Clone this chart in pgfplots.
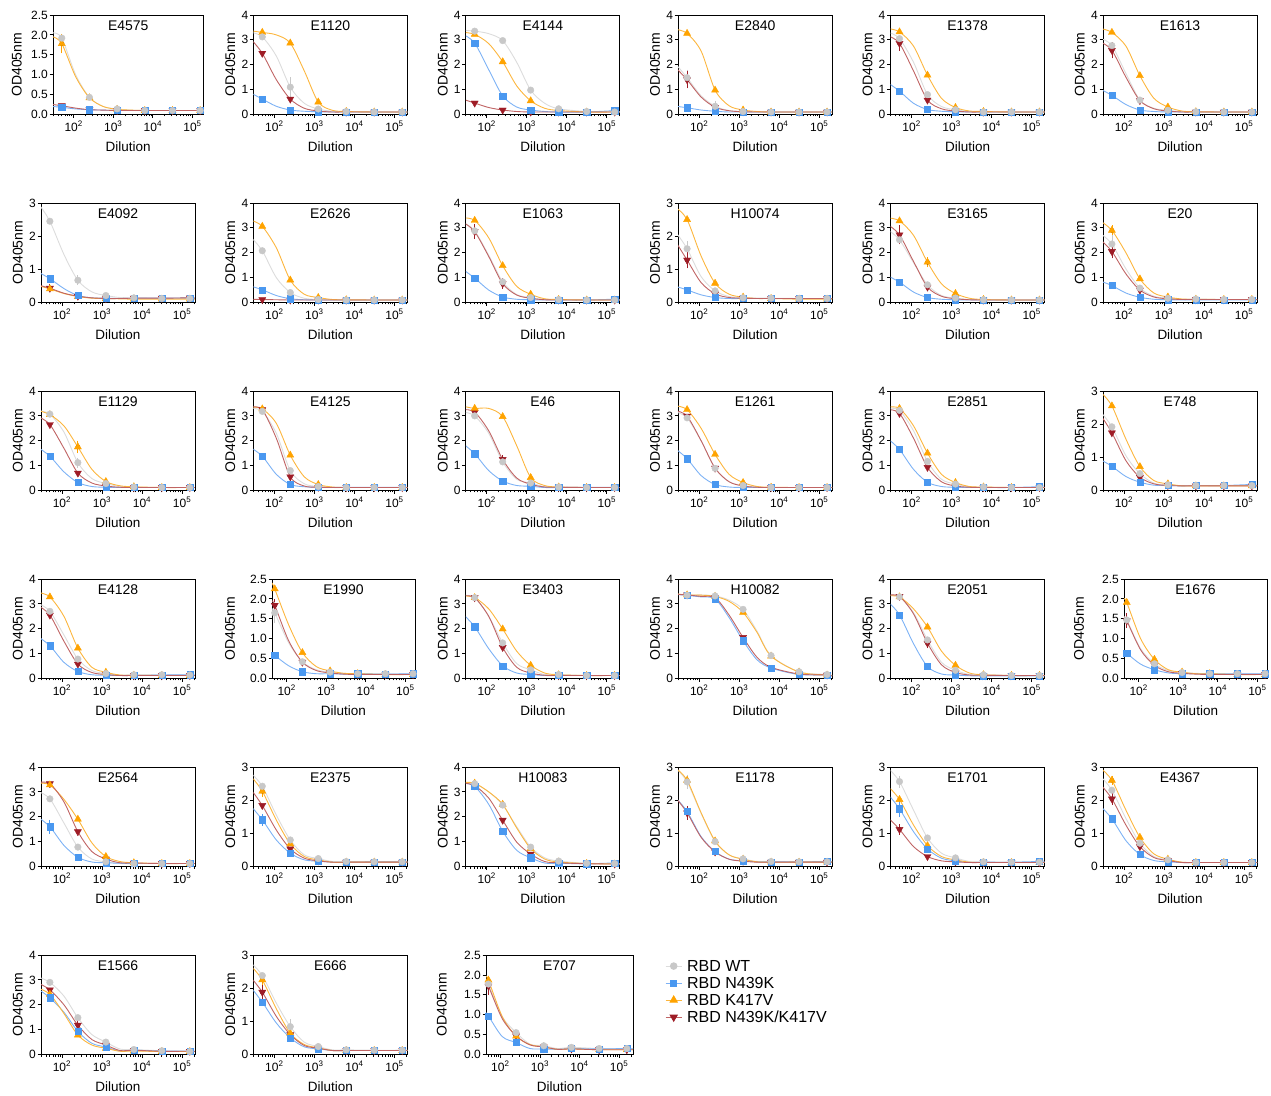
\documentclass[border=0pt]{standalone}
\usepackage{fontspec}
\setmainfont{Liberation Sans}
\usepackage{pgfplots}
\usepackage{pgfplotstable}
\pgfplotsset{compat=1.18}

\definecolor{wtm}{RGB}{200,200,200}
\definecolor{wtl}{RGB}{220,220,220}
\definecolor{nm}{RGB}{74,152,240}
\definecolor{nl}{RGB}{125,178,245}
\definecolor{km}{RGB}{255,163,0}
\definecolor{kl}{RGB}{252,182,62}
\definecolor{dm}{RGB}{158,28,38}
\definecolor{dl}{RGB}{192,100,100}

\pgfplotsset{
  pnlsty/.style={
    scale only axis, height=99.5pt, anchor=south west, ymin=0,
    xtick={100,1000,10000,100000},
    xticklabels={10\textsuperscript{2},10\textsuperscript{3},10\textsuperscript{4},10\textsuperscript{5}},
    minor xtick={20,30,40,50,60,70,80,90,200,300,400,500,600,700,800,900,2000,3000,4000,5000,6000,7000,8000,9000,20000,30000,40000,50000,60000,70000,80000,90000,200000,300000},
    tick align=outside, tick pos=left,
    major tick length=3.5pt, minor tick length=2pt,
    every tick/.style={black, line width=0.8pt},
    axis line style={black, line width=0.9pt},
    tick label style={font=\fontsize{12}{12}\selectfont},
    yticklabel style={inner sep=0pt, xshift=-1.5pt},
    xticklabel style={inner sep=0pt, yshift=-3pt},
    xlabel={Dilution}, ylabel={OD405nm},
    every axis x label/.style={at={(axis description cs:0.5,0)}, anchor=center, yshift=-32pt, font=\fontsize{13.5}{14}\selectfont},
    every axis y label/.style={rotate=90, anchor=center, font=\fontsize{14}{14}\selectfont},
    every axis title/.style={at={(axis description cs:0.5,1)}, anchor=center, yshift=-11pt, font=\fontsize{14}{14}\selectfont},
  },
  yfour/.style={ymax=4, ytick={0,1,2,3,4}, yticklabels={0,1,2,3,4}},
  ythree/.style={ymax=3, ytick={0,1,2,3}, yticklabels={0,1,2,3}},
  ytwofive/.style={ymax=2.5, ytick={0,0.5,1,1.5,2,2.5}, yticklabels={0.0,0.5,1.0,1.5,2.0,2.5}},
  mrows/.style={skip coords between index={0}{1}, skip coords between index={2}{3},
    skip coords between index={4}{5}, skip coords between index={6}{7},
    skip coords between index={10}{11}},
  cv/.style={forget plot, smooth, line width=0.9pt, #1},
  mwt/.style={mark=*, mark size=3.3pt, mark options={fill=wtm, draw=wtm}},
  mn/.style={mark=square*, mark size=3.1pt, mark options={fill=nm, draw=nm}},
  mk/.style={mark=triangle*, mark size=4.1pt, mark options={fill=km, draw=km}},
  md/.style={mark=triangle*, mark size=4.1pt, mark options={fill=dm, draw=dm, rotate=180}},
  myleg/.style={legend image code/.code={\draw[mark repeat=2,mark phase=2,##1] plot coordinates {(0pt,0pt) (8pt,0pt) (16pt,0pt)};}},
}

\let\pextra\relax
% error bar: colour, dilution, mean, half-range
\newcommand\eb[4]{\addplot[forget plot, only marks, mark=none,
  error bars/.cd, y dir=both, y explicit,
  error bar style={#1, line width=0.8pt},
  error mark options={#1, line width=0.8pt, mark size=2.6pt}]
  coordinates {(#2,#3) +- (0,#4)};}

\newcommand\series[1]{%
  \addplot[cv=wtl] table[x=x,y=w]{#1};
  \addplot[cv=nl] table[x=x,y=n]{#1};
  \addplot[cv=kl] table[x=x,y=k]{#1};
  \addplot[cv=dl] table[x=x,y=d]{#1};
  \pextra
  \addplot[forget plot, only marks, mrows, md] table[x=x,y=d]{#1};
  \addplot[forget plot, only marks, mrows, mk] table[x=x,y=k]{#1};
  \addplot[forget plot, only marks, mrows, mn] table[x=x,y=n]{#1};
  \addplot[forget plot, only marks, mrows, mwt] table[x=x,y=w]{#1};
}

% #1 left, #2 bottom, #3 width, #4 xmin, #5 xmax, #6 y style, #7 title, #8 table, #9 ylabel pos
\newcommand\panel[9]{%
\begin{semilogxaxis}[pnlsty,#6,at={(#1pt,#2pt)},width=#3pt,xmin=#4,xmax=#5,title={#7},
  ylabel style={at={(axis description cs:#9,0.5)}}]
\series{#8}
\end{semilogxaxis}\let\pextra\relax}

% rows: x, RBD WT (w), RBD N439K (n), RBD K417V (k), RBD N439K/K417V (d)
\pgfplotstableread{
x w n k d
30 2.05 0.20 1.95 0.25
50 1.92 0.18 1.78 0.22
112 1.00 0.14 0.95 0.16
250 0.43 0.12 0.42 0.12
560 0.20 0.11 0.20 0.11
1250 0.14 0.10 0.13 0.10
2800 0.11 0.10 0.11 0.10
6250 0.10 0.10 0.10 0.10
31250 0.10 0.10 0.10 0.10
156250 0.10 0.10 0.10 0.10
190000 0.10 0.10 0.10 0.10
}\tbA
\pgfplotstableread{
x w n k d
27 3.30 0.85 3.36 3.00
50 3.12 0.62 3.30 2.46
112 2.35 0.33 3.20 1.40
250 1.10 0.18 2.87 0.62
560 0.45 0.13 1.75 0.25
1250 0.22 0.11 0.50 0.14
2800 0.13 0.10 0.17 0.10
6250 0.12 0.10 0.12 0.10
31250 0.10 0.10 0.10 0.10
156250 0.10 0.10 0.10 0.10
210000 0.10 0.10 0.10 0.10
}\tbB
\pgfplotstableread{
x w n k d
27 3.38 3.20 3.30 0.60
50 3.35 2.87 3.22 0.46
112 3.25 1.80 2.85 0.28
250 2.97 0.75 2.12 0.18
560 2.10 0.30 1.15 0.12
1250 0.98 0.18 0.55 0.10
2800 0.45 0.12 0.25 0.10
6250 0.23 0.10 0.16 0.10
31250 0.12 0.10 0.10 0.10
156250 0.10 0.15 0.10 0.10
210000 0.10 0.10 0.10 0.10
}\tbC
\pgfplotstableread{
x w n k d
27 2.00 0.33 3.42 1.85
50 1.48 0.27 3.26 1.40
112 0.75 0.18 2.55 0.70
250 0.33 0.13 0.98 0.29
560 0.16 0.10 0.35 0.15
1250 0.12 0.10 0.18 0.11
2800 0.10 0.10 0.12 0.10
6250 0.10 0.10 0.10 0.10
31250 0.10 0.10 0.10 0.10
156250 0.10 0.10 0.10 0.10
210000 0.10 0.10 0.10 0.10
}\tbD
\pgfplotstableread{
x w n k d
27 3.30 1.25 3.45 3.15
50 3.05 0.94 3.32 2.86
112 2.10 0.45 2.75 1.75
250 0.80 0.20 1.58 0.58
560 0.32 0.13 0.65 0.23
1250 0.19 0.11 0.28 0.14
2800 0.12 0.10 0.14 0.10
6250 0.10 0.10 0.12 0.10
31250 0.10 0.10 0.10 0.10
156250 0.10 0.10 0.10 0.10
210000 0.10 0.10 0.10 0.10
}\tbE
\pgfplotstableread{
x w n k d
27 3.05 1.00 3.45 2.90
50 2.77 0.77 3.30 2.58
112 1.65 0.40 2.75 1.50
250 0.58 0.18 1.56 0.56
560 0.25 0.12 0.65 0.23
1250 0.17 0.10 0.30 0.14
2800 0.11 0.10 0.14 0.10
6250 0.11 0.10 0.11 0.10
31250 0.10 0.10 0.10 0.10
156250 0.10 0.10 0.10 0.10
210000 0.10 0.10 0.10 0.10
}\tbF
\pgfplotstableread{
x w n k d
27 2.95 0.90 0.50 0.52
50 2.45 0.72 0.41 0.43
112 1.45 0.42 0.27 0.28
250 0.67 0.21 0.18 0.19
560 0.32 0.14 0.13 0.14
1250 0.21 0.13 0.12 0.12
2800 0.15 0.12 0.11 0.12
6250 0.14 0.13 0.10 0.13
31250 0.12 0.13 0.10 0.13
156250 0.12 0.14 0.10 0.14
210000 0.12 0.13 0.10 0.13
}\tbG
\pgfplotstableread{
x w n k d
27 2.60 0.65 3.30 0.13
50 2.08 0.51 3.06 0.12
112 1.00 0.28 2.20 0.11
250 0.40 0.15 0.90 0.10
560 0.17 0.11 0.33 0.10
1250 0.12 0.10 0.20 0.10
2800 0.10 0.10 0.12 0.10
6250 0.10 0.10 0.11 0.10
31250 0.10 0.10 0.10 0.10
156250 0.10 0.10 0.10 0.10
210000 0.10 0.10 0.10 0.10
}\tbH
\pgfplotstableread{
x w n k d
27 3.20 1.30 3.40 3.20
50 2.88 0.98 3.30 2.85
112 1.90 0.50 2.60 1.85
250 0.83 0.22 1.48 0.76
560 0.32 0.13 0.65 0.30
1250 0.20 0.11 0.33 0.17
2800 0.12 0.10 0.15 0.11
6250 0.12 0.10 0.12 0.10
31250 0.10 0.10 0.10 0.10
156250 0.10 0.13 0.10 0.10
210000 0.10 0.10 0.10 0.10
}\tbI
\pgfplotstableread{
x w n k d
27 2.10 0.48 2.85 1.80
50 1.62 0.38 2.50 1.28
112 0.78 0.23 1.40 0.60
250 0.35 0.15 0.58 0.26
560 0.18 0.12 0.25 0.15
1250 0.14 0.12 0.16 0.13
2800 0.13 0.12 0.12 0.12
6250 0.13 0.12 0.12 0.12
31250 0.12 0.12 0.10 0.12
156250 0.12 0.12 0.10 0.12
210000 0.12 0.12 0.10 0.12
}\tbJ
\pgfplotstableread{
x w n k d
27 2.90 1.05 3.40 3.10
50 2.52 0.82 3.28 2.72
112 1.60 0.42 2.70 1.65
250 0.71 0.20 1.62 0.62
560 0.28 0.13 0.75 0.25
1250 0.18 0.11 0.36 0.15
2800 0.12 0.10 0.17 0.11
6250 0.11 0.10 0.12 0.10
31250 0.10 0.10 0.10 0.10
156250 0.10 0.10 0.10 0.10
210000 0.10 0.10 0.10 0.10
}\tbK
\pgfplotstableread{
x w n k d
27 2.75 0.85 3.25 2.50
50 2.35 0.68 2.90 2.05
112 1.35 0.38 2.00 1.15
250 0.58 0.21 0.95 0.50
560 0.25 0.13 0.38 0.22
1250 0.17 0.11 0.22 0.15
2800 0.13 0.10 0.14 0.12
6250 0.14 0.10 0.13 0.12
31250 0.12 0.10 0.12 0.12
156250 0.12 0.10 0.12 0.12
210000 0.12 0.10 0.12 0.12
}\tbL
\pgfplotstableread{
x w n k d
27 3.20 1.70 3.20 2.95
50 3.07 1.38 3.05 2.65
112 2.35 0.75 2.60 1.70
250 1.12 0.32 1.75 0.70
560 0.48 0.16 0.85 0.30
1250 0.28 0.13 0.36 0.18
2800 0.16 0.12 0.19 0.13
6250 0.14 0.12 0.15 0.12
31250 0.12 0.12 0.12 0.12
156250 0.12 0.12 0.12 0.12
210000 0.12 0.12 0.12 0.12
}\tbM
\pgfplotstableread{
x w n k d
27 3.30 1.70 3.35 3.35
50 3.18 1.38 3.28 3.25
112 2.30 0.65 2.70 2.10
250 0.80 0.24 1.42 0.55
560 0.27 0.15 0.55 0.18
1250 0.16 0.13 0.24 0.13
2800 0.12 0.13 0.14 0.12
6250 0.12 0.13 0.12 0.12
31250 0.12 0.13 0.12 0.12
156250 0.12 0.13 0.12 0.12
210000 0.12 0.13 0.12 0.12
}\tbN
\pgfplotstableread{
x w n k d
27 3.15 1.85 3.38 3.25
50 3.00 1.48 3.30 3.15
112 2.30 0.80 3.30 2.40
250 1.15 0.38 2.97 1.25
560 0.45 0.20 1.80 0.50
1250 0.30 0.17 0.52 0.25
2800 0.15 0.12 0.20 0.14
6250 0.14 0.12 0.14 0.13
31250 0.12 0.13 0.12 0.12
156250 0.12 0.13 0.12 0.12
210000 0.12 0.12 0.12 0.12
}\tbO
\pgfplotstableread{
x w n k d
27 3.15 1.65 3.40 3.20
50 2.92 1.28 3.25 2.99
112 2.00 0.60 2.50 2.00
250 0.89 0.24 1.45 0.90
560 0.35 0.14 0.65 0.35
1250 0.20 0.12 0.32 0.18
2800 0.13 0.12 0.16 0.13
6250 0.12 0.12 0.13 0.12
31250 0.12 0.12 0.12 0.12
156250 0.12 0.12 0.12 0.12
210000 0.12 0.12 0.12 0.12
}\tbP
\pgfplotstableread{
x w n k d
27 3.30 2.05 3.35 3.25
50 3.22 1.65 3.30 3.10
112 2.40 0.85 2.60 2.10
250 1.17 0.33 1.50 0.93
560 0.45 0.16 0.65 0.35
1250 0.26 0.13 0.32 0.18
2800 0.14 0.12 0.16 0.13
6250 0.14 0.12 0.14 0.12
31250 0.12 0.12 0.12 0.12
156250 0.12 0.15 0.12 0.12
210000 0.12 0.12 0.12 0.12
}\tbQ
\pgfplotstableread{
x w n k d
27 2.35 0.92 2.95 2.25
50 1.92 0.73 2.55 1.74
112 1.05 0.42 1.55 0.90
250 0.51 0.25 0.72 0.40
560 0.22 0.16 0.30 0.20
1250 0.17 0.15 0.20 0.15
2800 0.14 0.14 0.14 0.14
6250 0.15 0.15 0.14 0.14
31250 0.15 0.15 0.14 0.14
156250 0.15 0.18 0.14 0.14
210000 0.14 0.15 0.14 0.14
}\tbR
\pgfplotstableread{
x w n k d
27 3.00 1.65 3.45 2.90
50 2.70 1.32 3.28 2.55
112 1.75 0.65 2.50 1.50
250 0.78 0.28 1.22 0.58
560 0.32 0.15 0.45 0.24
1250 0.20 0.13 0.25 0.16
2800 0.14 0.12 0.14 0.12
6250 0.15 0.12 0.13 0.12
31250 0.15 0.14 0.12 0.12
156250 0.14 0.15 0.12 0.12
210000 0.14 0.13 0.12 0.12
}\tbS
\pgfplotstableread{
x w n k d
42.6 1.75 0.63 2.40 1.95
50 1.65 0.58 2.25 1.84
112 0.90 0.32 1.35 0.95
250 0.42 0.17 0.65 0.41
560 0.22 0.12 0.30 0.20
1250 0.16 0.12 0.19 0.14
2800 0.13 0.11 0.13 0.11
6250 0.12 0.12 0.12 0.10
31250 0.12 0.11 0.10 0.10
156250 0.12 0.12 0.10 0.10
175000 0.12 0.11 0.10 0.10
}\tbT
\pgfplotstableread{
x w n k d
27 3.35 2.55 3.32 3.32
50 3.25 2.08 3.25 3.25
112 2.50 1.20 2.80 2.50
250 1.43 0.51 1.99 1.25
560 0.60 0.22 1.10 0.45
1250 0.35 0.16 0.53 0.22
2800 0.16 0.12 0.22 0.13
6250 0.16 0.12 0.15 0.12
31250 0.12 0.12 0.12 0.12
156250 0.12 0.12 0.12 0.12
210000 0.12 0.12 0.12 0.12
}\tbU
\pgfplotstableread{
x w n k d
27 3.40 3.38 3.40 3.38
50 3.35 3.34 3.36 3.36
112 3.36 3.28 3.35 3.30
250 3.32 3.20 3.30 3.25
560 3.15 2.45 3.10 2.55
1250 2.78 1.52 2.66 1.65
2800 1.90 0.75 1.85 0.85
6250 0.92 0.42 0.90 0.45
31250 0.27 0.16 0.26 0.18
156250 0.16 0.14 0.14 0.14
210000 0.12 0.10 0.11 0.10
}\tbV
\pgfplotstableread{
x w n k d
27 3.35 3.05 3.32 3.35
50 3.28 2.56 3.28 3.30
112 2.65 1.40 2.80 2.60
250 1.55 0.48 2.07 1.42
560 0.65 0.18 1.10 0.55
1250 0.33 0.14 0.53 0.24
2800 0.16 0.11 0.22 0.14
6250 0.15 0.10 0.15 0.13
31250 0.12 0.10 0.12 0.12
156250 0.12 0.10 0.12 0.12
210000 0.12 0.10 0.12 0.12
}\tbW
\pgfplotstableread{
x w n k d
42.6 1.55 0.66 2.00 1.55
50 1.47 0.63 1.91 1.45
112 0.75 0.36 1.00 0.72
250 0.37 0.22 0.48 0.33
560 0.20 0.14 0.22 0.17
1250 0.15 0.12 0.16 0.13
2800 0.13 0.12 0.12 0.11
6250 0.12 0.12 0.12 0.10
31250 0.12 0.12 0.10 0.10
156250 0.12 0.12 0.10 0.10
175000 0.12 0.12 0.10 0.10
}\tbX
\pgfplotstableread{
x w n k d
27 3.00 1.95 3.35 3.38
50 2.72 1.60 3.28 3.33
112 1.75 0.85 2.70 2.60
250 0.78 0.37 1.90 1.40
560 0.30 0.18 0.95 0.60
1250 0.19 0.15 0.40 0.30
2800 0.12 0.13 0.20 0.15
6250 0.12 0.12 0.15 0.14
31250 0.12 0.12 0.12 0.12
156250 0.12 0.12 0.12 0.12
210000 0.12 0.12 0.12 0.12
}\tbY
\pgfplotstableread{
x w n k d
27 2.80 1.80 2.70 2.30
50 2.42 1.41 2.27 1.84
112 1.55 0.80 1.40 1.10
250 0.80 0.40 0.68 0.53
560 0.35 0.20 0.30 0.25
1250 0.24 0.16 0.20 0.17
2800 0.15 0.13 0.13 0.13
6250 0.15 0.13 0.13 0.13
31250 0.14 0.14 0.13 0.13
156250 0.14 0.14 0.13 0.13
210000 0.14 0.13 0.13 0.13
}\tbZ
\pgfplotstableread{
x w n k d
27 3.38 3.35 3.38 3.35
50 3.33 3.22 3.35 3.25
112 3.00 2.50 3.00 2.75
250 2.47 1.42 2.50 1.86
560 1.60 0.65 1.55 0.98
1250 0.78 0.35 0.72 0.50
2800 0.35 0.14 0.30 0.20
6250 0.22 0.13 0.18 0.15
31250 0.13 0.11 0.12 0.11
156250 0.12 0.14 0.10 0.10
210000 0.10 0.10 0.10 0.10
}\tbAA
\pgfplotstableread{
x w n k d
27 2.95 2.05 2.95 2.05
50 2.55 1.66 2.60 1.62
112 1.60 0.90 1.62 0.88
250 0.75 0.45 0.77 0.44
560 0.35 0.22 0.35 0.22
1250 0.23 0.17 0.22 0.16
2800 0.15 0.14 0.14 0.13
6250 0.15 0.14 0.13 0.13
31250 0.14 0.14 0.13 0.13
156250 0.14 0.15 0.13 0.13
210000 0.14 0.14 0.13 0.13
}\tbAB
\pgfplotstableread{
x w n k d
27 2.95 2.15 2.40 1.45
50 2.56 1.74 2.02 1.12
112 1.70 1.05 1.25 0.60
250 0.86 0.53 0.63 0.30
560 0.40 0.25 0.30 0.17
1250 0.26 0.17 0.20 0.14
2800 0.15 0.12 0.13 0.12
6250 0.14 0.13 0.12 0.12
31250 0.13 0.13 0.12 0.12
156250 0.13 0.15 0.12 0.12
210000 0.13 0.13 0.12 0.12
}\tbAC
\pgfplotstableread{
x w n k d
27 2.70 1.80 2.95 2.45
50 2.30 1.44 2.60 2.04
112 1.45 0.78 1.70 1.25
250 0.70 0.36 0.88 0.60
560 0.30 0.18 0.38 0.27
1250 0.20 0.14 0.22 0.18
2800 0.13 0.12 0.13 0.12
6250 0.12 0.12 0.12 0.12
31250 0.12 0.12 0.12 0.12
156250 0.12 0.12 0.12 0.12
210000 0.12 0.12 0.12 0.12
}\tbAD
\pgfplotstableread{
x w n k d
27 3.10 2.60 2.65 2.85
50 2.90 2.28 2.42 2.60
112 2.35 1.70 1.65 2.00
250 1.48 0.93 0.78 1.18
560 0.80 0.45 0.38 0.60
1250 0.50 0.30 0.25 0.38
2800 0.22 0.14 0.13 0.16
6250 0.20 0.17 0.14 0.17
31250 0.15 0.14 0.12 0.13
156250 0.12 0.14 0.12 0.13
210000 0.12 0.12 0.12 0.12
}\tbAE
\pgfplotstableread{
x w n k d
27 2.75 2.00 2.65 2.30
50 2.38 1.58 2.25 1.88
112 1.55 0.95 1.38 1.15
250 0.84 0.50 0.64 0.60
560 0.37 0.23 0.30 0.27
1250 0.24 0.17 0.20 0.19
2800 0.14 0.12 0.12 0.12
6250 0.14 0.12 0.12 0.12
31250 0.13 0.12 0.12 0.12
156250 0.13 0.12 0.12 0.12
210000 0.13 0.12 0.12 0.12
}\tbAF
\pgfplotstableread{
x w n k d
43.5 1.85 1.05 1.95 1.80
50 1.77 0.97 1.87 1.72
112 0.95 0.45 0.95 0.90
250 0.55 0.30 0.46 0.47
560 0.26 0.15 0.25 0.24
1250 0.22 0.14 0.19 0.19
2800 0.15 0.13 0.13 0.13
6250 0.18 0.15 0.14 0.14
31250 0.15 0.14 0.12 0.12
156250 0.15 0.15 0.12 0.12
224000 0.14 0.14 0.12 0.12
}\tbAG

\begin{document}
\begin{tikzpicture}
\useasboundingbox (0,0) rectangle (1271pt,1095pt);
% row 1
\def\pextra{\eb{km}{50}{1.78}{0.18}}
\panel{53}{980.5}{150.5}{30}{190000}{ytwofive}{E4575}{\tbA}{-0.24}
\def\pextra{\eb{wtm}{250}{1.1}{0.3}}
\panel{253.4}{980.5}{154}{30}{210000}{yfour}{E1120}{\tbB}{-0.15}
\panel{465.8}{980.5}{154}{30}{210000}{yfour}{E4144}{\tbC}{-0.15}
\def\pextra{\eb{wtm}{50}{1.48}{0.22}\eb{wtm}{250}{0.33}{0.12}\eb{dm}{50}{1.4}{0.25}}
\panel{678.2}{980.5}{154}{30}{210000}{yfour}{E2840}{\tbD}{-0.15}
\def\pextra{\eb{dm}{50}{2.86}{0.2}}
\panel{890.6}{980.5}{154}{30}{210000}{yfour}{E1378}{\tbE}{-0.15}
\def\pextra{\eb{dm}{50}{2.58}{0.22}}
\panel{1103}{980.5}{154}{30}{210000}{yfour}{E1613}{\tbF}{-0.15}
% row 2
\def\pextra{\eb{wtm}{250}{0.67}{0.07}\eb{dm}{50}{0.43}{0.05}}
\panel{41}{792.5}{154}{30}{210000}{ythree}{E4092}{\tbG}{-0.15}
\panel{253.4}{792.5}{154}{30}{210000}{yfour}{E2626}{\tbH}{-0.15}
\def\pextra{\eb{dm}{50}{2.85}{0.2}\eb{dm}{250}{0.76}{0.1}}
\panel{465.8}{792.5}{154}{30}{210000}{yfour}{E1063}{\tbI}{-0.15}
\def\pextra{\eb{wtm}{50}{1.62}{0.15}\eb{dm}{50}{1.28}{0.17}}
\panel{678.2}{792.5}{154}{30}{210000}{ythree}{H10074}{\tbJ}{-0.15}
\def\pextra{\eb{dm}{50}{2.72}{0.28}\eb{km}{250}{1.62}{0.1}}
\panel{890.6}{792.5}{154}{30}{210000}{yfour}{E3165}{\tbK}{-0.15}
\def\pextra{\eb{km}{50}{2.9}{0.1}\eb{wtm}{50}{2.35}{0.25}\eb{dm}{50}{2.05}{0.17}}
\panel{1103}{792.5}{154}{30}{210000}{yfour}{E20}{\tbL}{-0.15}
% row 3
\def\pextra{\eb{wtm}{250}{1.12}{0.1}\eb{km}{250}{1.75}{0.15}}
\panel{41}{604.5}{154}{30}{210000}{yfour}{E1129}{\tbM}{-0.15}
\panel{253.4}{604.5}{154}{30}{210000}{yfour}{E4125}{\tbN}{-0.15}
\def\pextra{\eb{dm}{250}{1.25}{0.08}}
\panel{465.8}{604.5}{154}{30}{210000}{yfour}{E46}{\tbO}{-0.15}
\panel{678.2}{604.5}{154}{30}{210000}{yfour}{E1261}{\tbP}{-0.15}
\panel{890.6}{604.5}{154}{30}{210000}{yfour}{E2851}{\tbQ}{-0.15}
\panel{1103}{604.5}{154}{30}{210000}{ythree}{E748}{\tbR}{-0.15}
% row 4
\panel{41}{416.5}{154}{30}{210000}{yfour}{E4128}{\tbS}{-0.15}
\def\pextra{\eb{dm}{50}{1.84}{0.08}\eb{wtm}{50}{1.65}{0.2}}
\panel{272}{416.5}{143}{42.6}{175000}{ytwofive}{E1990}{\tbT}{-0.294}
\panel{465.8}{416.5}{154}{30}{210000}{yfour}{E3403}{\tbU}{-0.15}
\panel{678.2}{416.5}{154}{30}{210000}{yfour}{H10082}{\tbV}{-0.15}
\def\pextra{\eb{dm}{250}{1.42}{0.1}}
\panel{890.6}{416.5}{154}{30}{210000}{yfour}{E2051}{\tbW}{-0.15}
\def\pextra{\eb{dm}{50}{1.45}{0.12}}
\panel{1124}{416.5}{143}{42.6}{175000}{ytwofive}{E1676}{\tbX}{-0.315}
% row 5
\def\pextra{\eb{nm}{50}{1.6}{0.17}}
\panel{41}{228.5}{154}{30}{210000}{yfour}{E2564}{\tbY}{-0.15}
\def\pextra{\eb{km}{50}{2.27}{0.1}\eb{nm}{50}{1.41}{0.1}}
\panel{253.4}{228.5}{154}{30}{210000}{ythree}{E2375}{\tbZ}{-0.15}
\panel{465.8}{228.5}{154}{30}{210000}{yfour}{H10083}{\tbAA}{-0.15}
\def\pextra{\eb{wtm}{50}{2.55}{0.14}\eb{dm}{50}{1.62}{0.13}}
\panel{678.2}{228.5}{154}{30}{210000}{ythree}{E1178}{\tbAB}{-0.15}
\def\pextra{\eb{wtm}{50}{2.56}{0.1}\eb{nm}{50}{1.74}{0.17}\eb{dm}{50}{1.12}{0.08}}
\panel{890.6}{228.5}{154}{30}{210000}{ythree}{E1701}{\tbAC}{-0.15}
\def\pextra{\eb{km}{50}{2.6}{0.06}\eb{dm}{50}{2.04}{0.1}}
\panel{1103}{228.5}{154}{30}{210000}{ythree}{E4367}{\tbAD}{-0.15}
% row 6
\def\pextra{\eb{dm}{250}{1.18}{0.12}}
\panel{41}{40.5}{154}{30}{210000}{yfour}{E1566}{\tbAE}{-0.15}
\def\pextra{\eb{wtm}{250}{0.84}{0.14}\eb{dm}{50}{1.88}{0.15}\eb{km}{50}{2.25}{0.08}}
\panel{253.4}{40.5}{154}{30}{210000}{ythree}{E666}{\tbAF}{-0.15}
\def\pextra{\eb{dm}{50}{1.72}{0.15}}
\begin{semilogxaxis}[pnlsty,ytwofive,at={(486pt,40.5pt)},width=147pt,xmin=43.5,xmax=224000,title={E707},
  ylabel style={at={(axis description cs:-0.30,0.5)}},
  myleg, legend cell align=left,
  legend style={at={(axis description cs:1.218,0.946)}, anchor=north west, draw=none, fill=none,
    font=\fontsize{16}{16}\selectfont, inner sep=0pt, row sep=6pt, column sep=5pt,
    nodes={inner sep=0pt, text height=11pt, text depth=0pt}}]
\series{\tbAG}
\addlegendimage{wtl, line width=0.9pt, mwt}
\addlegendentry{RBD WT}
\addlegendimage{nl, line width=0.9pt, mn}
\addlegendentry{RBD N439K}
\addlegendimage{kl, line width=0.9pt, mk}
\addlegendentry{RBD K417V}
\addlegendimage{dl, line width=0.9pt, md}
\addlegendentry{RBD N439K/K417V}
\end{semilogxaxis}
\end{tikzpicture}
\end{document}
